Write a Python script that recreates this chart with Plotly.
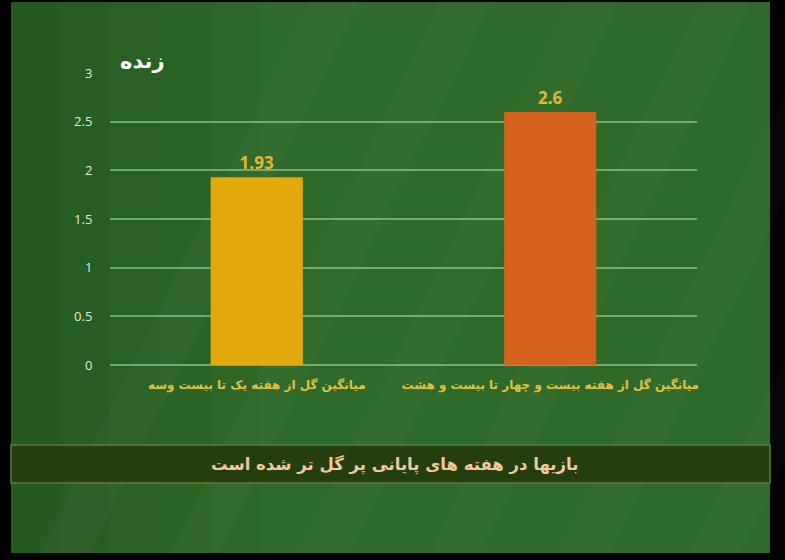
import plotly.graph_objects as go

# data
categories = ["میانگین گل از هفته یک تا بیست وسه",
              "میانگین گل از هفته بیست و چهار تا بیست و هشت"]
values = [1.93, 2.6]
value_labels = ["1.93", "2.6"]
y_ticks = [0, 0.5, 1, 1.5, 2, 2.5, 3]
y_tick_labels = ["0", "0.5", "1", "1.5", "2", "2.5", "3"]
banner_text = "بازیها در هفته های پایانی پر گل تر شده است"
logo_text = "زنده"

bar_colors = ["#e2a80c", "#d4611c"]
font_fa = "DejaVu Sans"

fig = go.Figure()
fig.add_trace(go.Bar(
    x=categories,
    y=values,
    text=["<b>" + t + "</b>" for t in value_labels],
    textposition="outside",
    textfont=dict(family="Open Sans", size=17, color="#e4b82a"),
    marker=dict(color=bar_colors, line=dict(width=0)),
    cliponaxis=False,
    hoverinfo="skip",
))

# plot area is 110..697 px wide, 73..365 px tall; shapes below use paper coords
def px_x(p):
    return (p - 110) / 587.0

def px_y(p):
    return (365 - p) / 292.0

shapes = [
    # green board
    dict(type="rect", xref="paper", yref="paper", layer="below",
         x0=px_x(11), x1=px_x(770), y0=px_y(553), y1=px_y(2),
         fillcolor="#2e6a29", line=dict(width=0)),
]
# soft darkening toward the left edge
for right in [60, 110, 160, 210, 260]:
    shapes.append(dict(type="rect", xref="paper", yref="paper", layer="below",
                       x0=px_x(11), x1=px_x(right), y0=px_y(553), y1=px_y(2),
                       fillcolor="rgba(0,25,0,0.035)", line=dict(width=0)))
# faint diagonal streaks on the board
for start in [40, 170, 300, 430, 560, 690]:
    shapes.append(dict(
        type="path", xref="paper", yref="paper", layer="below",
        path="M {},{} L {},{} L {},{} L {},{} Z".format(
            px_x(start), px_y(553), px_x(start + 50), px_y(553),
            px_x(start + 320), px_y(2), px_x(start + 270), px_y(2)),
        fillcolor="rgba(255,255,255,0.025)", line=dict(width=0)))
# banner
shapes.append(dict(type="rect", xref="paper", yref="paper", layer="below",
                   x0=px_x(11), x1=px_x(770), y0=px_y(483), y1=px_y(445),
                   fillcolor="#243f0b", line=dict(width=1.5, color="#56803c")))

fig.update_layout(
    width=785, height=560,
    margin=dict(l=110, r=88, t=73, b=195),
    paper_bgcolor="#000000",
    plot_bgcolor="rgba(0,0,0,0)",
    showlegend=False,
    bargap=0.686,
    shapes=shapes,
    xaxis=dict(
        tickvals=categories,
        ticktext=["<b>" + c + "</b>" for c in categories],
        tickfont=dict(family=font_fa, size=12, color="#e2c040"),
        showgrid=False, zeroline=False, showline=False,
        ticks="outside", ticklen=9, tickcolor="rgba(0,0,0,0)",
        fixedrange=True,
    ),
    yaxis=dict(
        range=[0, 3],
        tickvals=y_ticks, ticktext=y_tick_labels,
        tickfont=dict(family="Open Sans", size=13, color="#e6e8de"),
        showgrid=True, gridcolor="rgba(190,215,170,0.55)", gridwidth=1.5,
        zeroline=True, zerolinecolor="rgba(190,215,170,0.55)", zerolinewidth=1.5,
        showline=False,
        ticks="outside", ticklen=14, tickcolor="rgba(0,0,0,0)",
        fixedrange=True,
    ),
    annotations=[
        dict(text="<b>" + banner_text + "</b>", xref="paper", yref="paper",
             x=px_x(394), y=px_y(464), xanchor="center", yanchor="middle",
             showarrow=False,
             font=dict(family=font_fa, size=16.5, color="#f2c89c")),
        dict(text="<b>" + logo_text + "</b>", xref="paper", yref="paper",
             x=px_x(142), y=px_y(61), xanchor="center", yanchor="middle",
             showarrow=False,
             font=dict(family=font_fa, size=21, color="#ffffff")),
    ],
)

fig.write_html("out.html",
               config={"displayModeBar": False},
               post_script="document.body.style.margin='0';"
                           "document.body.style.background='#000';")
